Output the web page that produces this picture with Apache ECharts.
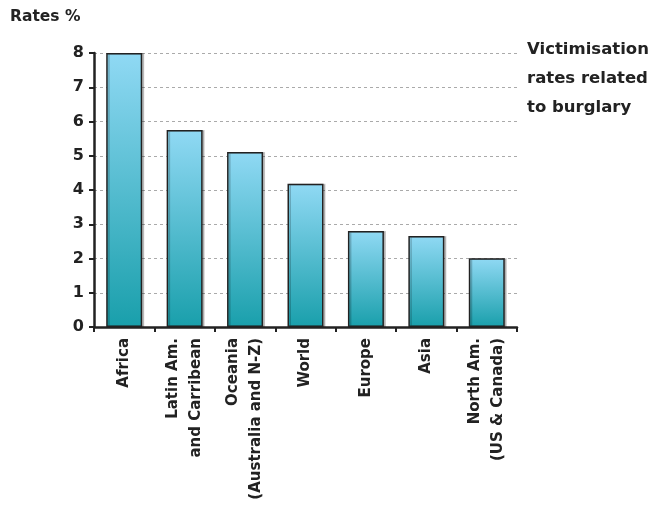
<!DOCTYPE html>
<html>
<head>
<meta charset="utf-8">
<script src="https://cdn.jsdelivr.net/npm/echarts@6/dist/echarts.min.js"></script>
<style>
  html, body { margin: 0; padding: 0; background: #fff; }
  #chart { width: 663px; height: 510px; }
</style>
</head>
<body>
<div id="chart"></div>
<script>
// Burglary victimisation rates by region (%)
const regions = [
  'Africa',
  'Latin Am.\nand Carribean',
  'Oceania\n(Australia and N-Z)',
  'World',
  'Europe',
  'Asia',
  'North Am.\n(US & Canada)'
];
const rates = [8.0, 5.75, 5.11, 4.18, 2.8, 2.66, 2.01];
const yTicks = [0, 1, 2, 3, 4, 5, 6, 7, 8];

const FONT = '"DejaVu Sans", "Liberation Sans", Arial, sans-serif';
const INK = '#222';

const chart = echarts.init(document.getElementById('chart'), null, { renderer: 'canvas' });

chart.setOption({
  animation: false,
  backgroundColor: '#fff',
  textStyle: { fontFamily: FONT },
  grid: { left: 94, right: 146, top: 53, bottom: 183, containLabel: false },
  graphic: [
    {
      type: 'text', left: 10, top: 9,
      style: { text: 'Rates %', fontFamily: FONT, fontWeight: 'bold', fontSize: 15.5, fill: INK }
    },
    {
      type: 'text', left: 527, top: 35,
      style: {
        text: 'Victimisation\nrates related\nto burglary',
        fontFamily: FONT, fontWeight: 'bold', fontSize: 16.5, lineHeight: 29, fill: INK
      }
    }
  ],
  xAxis: {
    type: 'category',
    data: regions,
    boundaryGap: true,
    axisLine: { show: true, lineStyle: { color: INK, width: 2.5 } },
    axisTick: { show: true, length: 5, lineStyle: { color: INK, width: 2 } },
    axisLabel: {
      rotate: 90, interval: 0, margin: 11,
      color: INK, fontFamily: FONT, fontWeight: 'bold', fontSize: 15, lineHeight: 23
    },
    splitLine: { show: false }
  },
  yAxis: {
    type: 'value',
    min: yTicks[0],
    max: yTicks[yTicks.length - 1],
    interval: 1,
    axisLine: { show: true, lineStyle: { color: INK, width: 2.5 } },
    axisTick: { show: true, length: 5, lineStyle: { color: INK, width: 2 } },
    axisLabel: {
      margin: 10, color: INK, fontFamily: FONT, fontWeight: 'bold', fontSize: 16
    },
    splitLine: { show: true, lineStyle: { color: '#aaa', type: [3, 3], width: 1 } }
  },
  series: [{
    type: 'bar',
    data: rates,
    barWidth: 36,
    itemStyle: {
      color: new echarts.graphic.LinearGradient(0, 0, 0, 1, [
        { offset: 0, color: '#90d9f4' },
        { offset: 1, color: '#199fab' }
      ]),
      borderColor: INK,
      borderWidth: 1.5,
      shadowColor: 'rgba(0,0,0,0.2)',
      shadowOffsetX: 2,
      shadowOffsetY: 0,
      shadowBlur: 0
    }
  }]
});
</script>
</body>
</html>
